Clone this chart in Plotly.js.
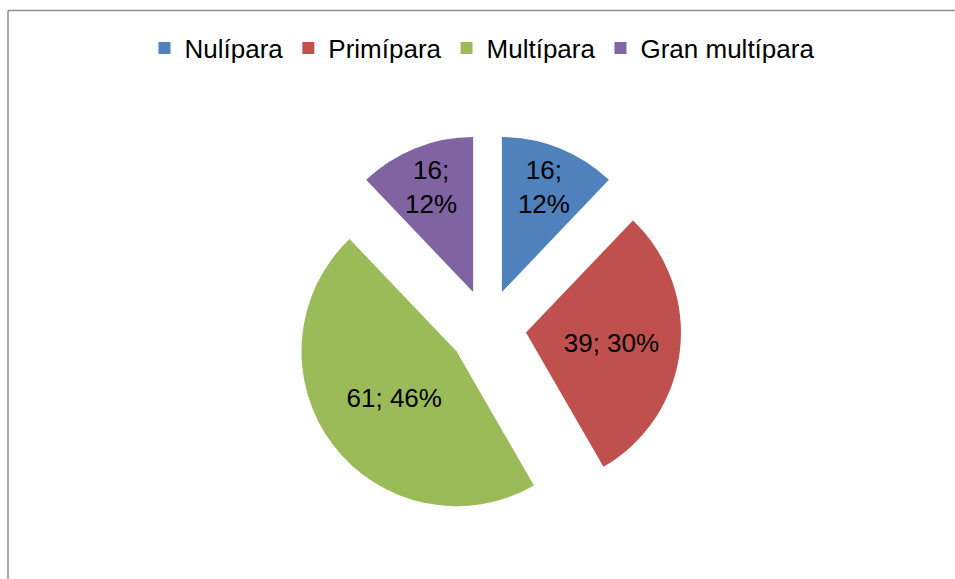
<!DOCTYPE html>
<html>
<head>
<meta charset="utf-8">
<script src="https://cdn.plot.ly/plotly-3.0.1.min.js"></script>
<style>html,body{margin:0;padding:0;background:#fff;}#chart{width:955px;height:579px;}</style>
</head>
<body>
<div id="chart"></div>
<script>
var categories = ["Nulípara", "Primípara", "Multípara", "Gran multípara"];
var values = [16, 39, 61, 16];
var colors = ["#4F81BD", "#C0504D", "#9BBB59", "#8064A2"];
var labelTemplates = ["%{value};<br>%{percent:.0%}", "%{value}; %{percent:.0%}", "%{value}; %{percent:.0%}", "%{value};<br>%{percent:.0%}"];

var W = 955, H = 579;
var cx = 487.5, cy = 328, size = 387.5;

var trace = {
  type: "pie",
  labels: categories,
  values: values,
  sort: false,
  direction: "clockwise",
  rotation: 0,
  pull: [0.25, 0.25, 0.25, 0.25],
  marker: {colors: colors, line: {width: 0}},
  texttemplate: labelTemplates,
  textposition: "inside",
  insidetextorientation: "horizontal",
  textfont: {family: "Liberation Sans, Arial, sans-serif", size: 26, color: "#000"},
  hoverinfo: "label+value+percent",
  domain: {
    x: [(cx - size / 2) / W, (cx + size / 2) / W],
    y: [1 - (cy + size / 2) / H, 1 - (cy - size / 2) / H]
  }
};

var layout = {
  width: W, height: H,
  margin: {l: 0, r: 0, t: 0, b: 0},
  paper_bgcolor: "#fff",
  font: {family: "Liberation Sans, Arial, sans-serif", color: "#000"},
  showlegend: true,
  legend: {
    orientation: "h",
    x: 482 / W, xanchor: "center",
    y: 1 - 48 / H, yanchor: "middle",
    font: {size: 26, family: "Liberation Sans, Arial, sans-serif", color: "#000"},
    traceorder: "normal"
  },
  shapes: [
    {type: "line", xref: "paper", yref: "paper", x0: 8 / W, x1: 8 / W, y0: 0, y1: 1 - 10.5 / H, line: {color: "#8C8C8C", width: 1.5}},
    {type: "line", xref: "paper", yref: "paper", x0: 8 / W, x1: 1, y0: 1 - 10.5 / H, y1: 1 - 10.5 / H, line: {color: "#8C8C8C", width: 1.5}}
  ]
};

Plotly.newPlot("chart", [trace], layout, {displayModeBar: false, staticPlot: true});
</script>
</body>
</html>
